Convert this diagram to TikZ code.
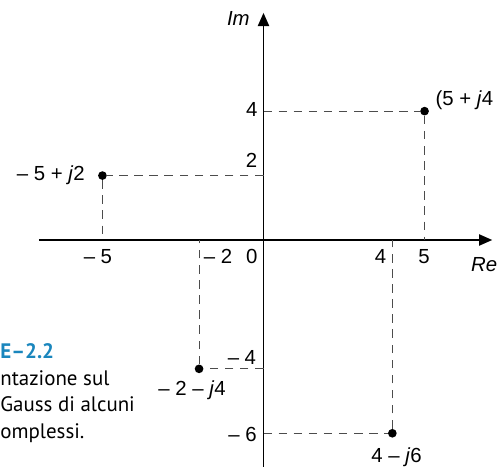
\documentclass[tikz,border=0pt]{standalone}
\usepackage{fontspec}
\setmainfont{Liberation Sans}
\newfontfamily\capfont{PT Sans}
\usepackage{xcolor}
\usepackage{tikz}
\usetikzlibrary{arrows.meta,positioning}
\definecolor{capblue}{HTML}{1A86BD}

\begin{document}
\begin{tikzpicture}[x=0.6cm,y=0.6cm,
  ax/.style={-{Triangle[length=7pt,width=6pt]},line width=0.7pt},
  proj/.style={dash pattern=on 4.5pt off 3.5pt,line width=0.5pt,black!70},
  dot/.style={circle,fill,inner sep=0pt,minimum size=4.6pt},
  lbl/.style={inner sep=0pt,anchor=base,font=\fontsize{10.8}{13}\selectfont},
  capt/.style={inner sep=0pt,anchor=north west,align=left,
               font=\capfont\fontsize{11.1}{14.2}\selectfont}
]
\useasboundingbox (-8.18,-7.02) rectangle (7.28,7.45);
% assi
\coordinate (xa) at (-6.97,0);
\coordinate (xb) at (7.10,0);
\coordinate (ya) at (0,-7.10);
\coordinate (yb) at (0,7.05);
\draw[ax] (xa) -- (xb);
\draw[ax] (ya) -- (yb);
% punti
\node[dot] (z1) at (5,4) {};
\node[dot] (z2) at (-5,2) {};
\node[dot] (z3) at (-2,-4) {};
\node[dot] (z4) at (4,-6) {};
\coordinate (z1x) at (5,0);  \coordinate (z1y) at (0,4);
\coordinate (z2x) at (-5,0); \coordinate (z2y) at (0,2);
\coordinate (z3x) at (-2,0); \coordinate (z3y) at (0,-4);
\coordinate (z4x) at (4,0);  \coordinate (z4y) at (0,-6);
\draw[proj] (z1y) -- (z1) -- (z1x);
\draw[proj] (z2y) -- (z2) -- (z2x);
\draw[proj] (z3y) -- (z3) -- (z3x);
\draw[proj] (z4y) -- (z4) -- (z4x);
% tacche
\node[lbl] (ty4) at (-0.36,3.82) {4};
\node[lbl] (ty2) at (-0.37,2.24) {2};
\node[lbl] (tym4) at (-0.67,-3.88) {– 4};
\node[lbl] (tym6) at (-0.65,-6.26) {– 6};
\node[lbl] (txm5) at (-5.14,-0.72) {– 5};
\node[lbl] (txm2) at (-1.41,-0.72) {– 2};
\node[lbl] (t0) at (-0.36,-0.72) {0};
\node[lbl] (tx4) at (3.63,-0.72) {4};
\node[lbl] (tx5) at (4.98,-0.72) {5};
\node[lbl] (re) at (6.85,-0.99) {\itshape Re};
\node[lbl] (im) at (-0.78,6.65) {\itshape Im};
% etichette dei punti
\node[lbl,anchor=base west] (l1) at (5.33,4.19) {(5 + \textit{j}4};
\node[lbl,anchor=base east] (l2) at (-5.54,1.86) {– 5 + \textit{j}2};
\node[lbl] (l3) at (-2.22,-4.83) {– 2 – \textit{j}4};
\node[lbl] (l4) at (4.13,-6.92) {4 – \textit{j}6};
% didascalia
\node[capt] (cap) at (-8.18,-3.20)
  {\textcolor{capblue}{\bfseries E–2.2}\\ntazione sul\\Gauss di alcuni\\omplessi.};
\end{tikzpicture}
\end{document}
